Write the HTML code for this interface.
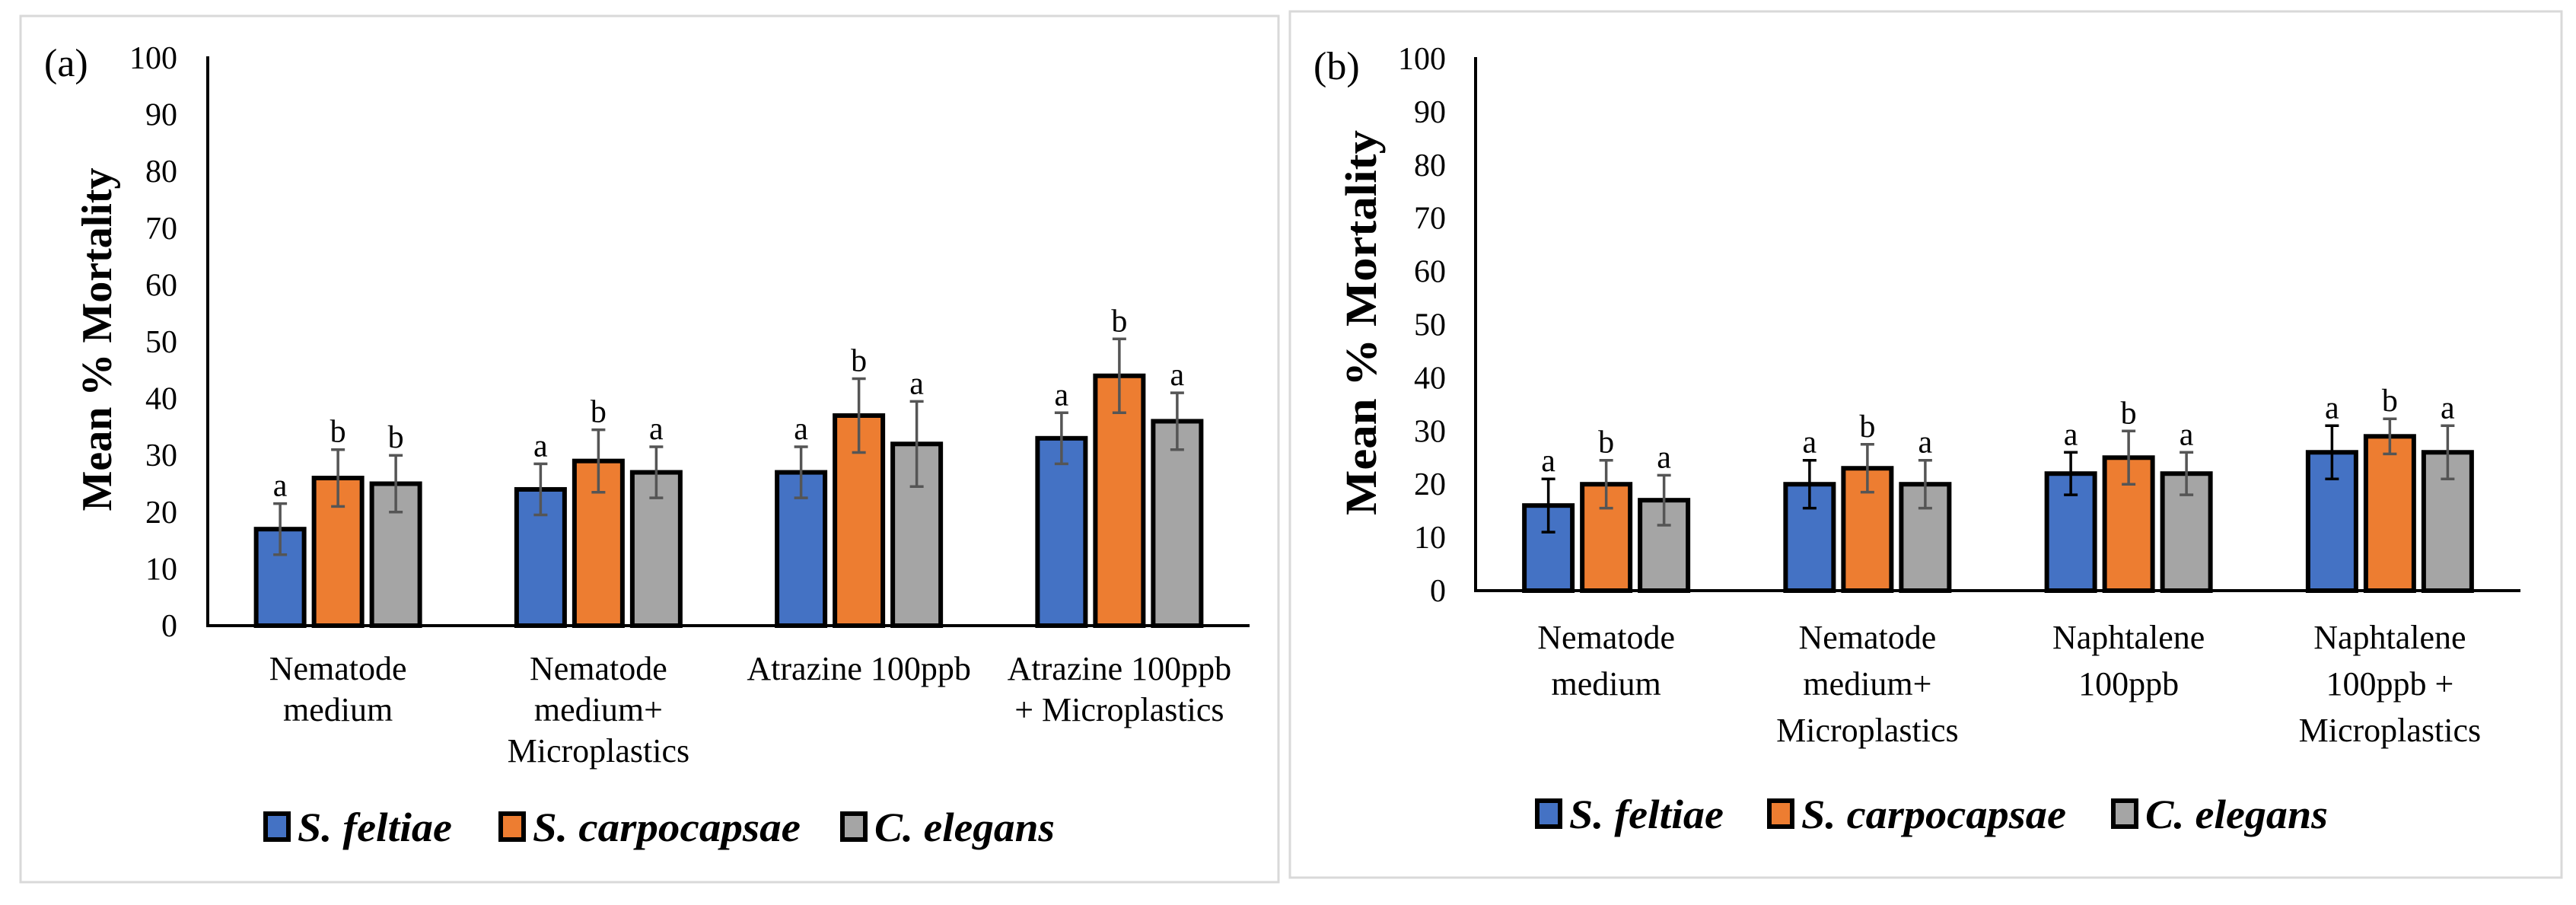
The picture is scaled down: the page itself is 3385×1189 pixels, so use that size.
<!DOCTYPE html>
<html><head><meta charset="utf-8"><style>
html,body{margin:0;padding:0;background:#fff;width:3385px;height:1189px;overflow:hidden}
svg{display:block}
text{font-family:"Liberation Serif",serif;fill:#000}
</style></head><body>
<svg id="chart" width="3385" height="1189"></svg>
<script>
const seriesNames=["S. feltiae","S. carpocapsae","C. elegans"];
const seriesColors=["#4472C4","#ED7D31","#A5A5A5"];
const yTicks=[0,10,20,30,40,50,60,70,80,90,100];
const catsA=[["Nematode","medium"],["Nematode","medium+","Microplastics"],["Atrazine 100ppb"],["Atrazine 100ppb","+ Microplastics"]];
const valsA=[[17,24,27,33],[26,29,37,44],[25,27,32,36]];
const errsA=[[4.5,4.5,4.5,4.5],[5,5.5,6.5,6.5],[5,4.5,7.5,5]];
const lettersA=[["a","a","a","a"],["b","b","b","b"],["b","a","a","a"]];
const catsB=[["Nematode","medium"],["Nematode","medium+","Microplastics"],["Naphtalene","100ppb"],["Naphtalene","100ppb +","Microplastics"]];
const valsB=[[16,20,22,26],[20,23,25,29],[17,20,22,26]];
const errsB=[[5,4.5,4,5],[4.5,4.5,5,3.3],[4.7,4.5,4,5]];
const lettersB=[["a","a","a","a"],["b","b","b","b"],["a","a","a","a"]];

const NS="http://www.w3.org/2000/svg";
const svg=document.getElementById('chart');
function mk(tag,attrs,parent){const e=document.createElementNS(NS,tag);for(const k in attrs)e.setAttribute(k,attrs[k]);(parent||svg).appendChild(e);return e;}

function drawPanel(p){
  const g=mk('g',{});
  
  
  const border=mk('rect',{x:p.bx,y:p.by,width:p.bw,height:p.bh,fill:'none',stroke:'#d9d9d9','stroke-width':3},g);
  
  
  const y=v=>p.y0-(v/100)*(p.y0-p.y100);
  const cw=(p.xEnd-p.x0)/p.cats.length;
  const x=i=>p.x0+cw*(i+0.5);
  const lab=mk('text',{x:p.labX,y:p.labY,'font-size':52},g);lab.textContent=p.label;
  
  
  yTicks.forEach(t=>{const tt=mk('text',{x:p.tickX,y:y(t)+14,'text-anchor':'end','font-size':42},g);tt.textContent=t;
    
    });
  const yt=mk('text',{x:0,y:0,'text-anchor':'middle','font-size':p.titleSize,'font-weight':'bold',textLength:p.titleLen,lengthAdjust:'spacingAndGlyphs',transform:`translate(${p.titleX},${p.titleY}) rotate(-90)`},g);
  yt.textContent="Mean % Mortality";
  
  
  const bw=63,pitch=76;
  p.vals.forEach((sv,s)=>{sv.forEach((v,i)=>{
    const cx=x(i)+(s-1)*pitch;
    const r=mk('rect',{x:cx-bw/2,y:y(v),width:bw,height:p.y0-y(v),fill:seriesColors[s],stroke:'#000','stroke-width':6},g);
    
    
    const e=p.errs[s][i];const ec=(p.blackBlueErr&&s===0)?'#000':'#555';
    const eb=mk('path',{d:`M${cx},${y(v+e)}V${y(v-e)}M${cx-9},${y(v+e)}H${cx+9}M${cx-9},${y(v-e)}H${cx+9}`,stroke:ec,'stroke-width':3.5,fill:'none'},g);
    
    
    const lt=mk('text',{x:cx,y:y(v+e)-10,'text-anchor':'middle','font-size':42},g);lt.textContent=p.letters[s][i];
    
    
  });});
  const ax=mk('path',{d:`M${p.x0},${p.y100-2}V${p.y0}H${p.xEnd}`,stroke:'#000','stroke-width':4,fill:'none'},g);
  
  
  p.cats.forEach((lines,i)=>{const t=mk('text',{x:x(i),y:p.catY,'text-anchor':'middle','font-size':44},g);
    
    
    lines.forEach((l,j)=>{const ts=mk('tspan',{x:x(i),dy:j?p.catLH:0},t);ts.textContent=l;});});
  seriesNames.forEach((n,s)=>{
    const sq=mk('rect',{x:p.legX[s],y:p.legY-36,width:30,height:34,fill:seriesColors[s],stroke:'#000','stroke-width':6},g);
    
    
    const lt=mk('text',{x:p.legX[s]+42,y:p.legY,'font-size':54,'font-style':'italic','font-weight':'bold',textLength:p.legLen[s],lengthAdjust:'spacingAndGlyphs'},g);lt.textContent=n;
    
    
  });
}
drawPanel({name:'panel-a',label:'(a)',bx:27,by:21,bw:1653,bh:1138,x0:273,xEnd:1642,y0:822,y100:76,
  tickX:233,labX:58,labY:100,titleX:146,titleY:446,titleSize:56,titleLen:451,cats:catsA,vals:valsA,errs:errsA,letters:lettersA,
  catY:893,catLH:54,legX:[349,658,1107],legY:1105,legLen:[203,352,237],blackBlueErr:false});
drawPanel({name:'panel-b',label:'(b)',bx:1695,by:15,bw:1671,bh:1138,x0:1939,xEnd:3312,y0:776,y100:77,
  tickX:1900,labX:1726,labY:104,titleX:1808,titleY:424,titleSize:58,titleLen:506,cats:catsB,vals:valsB,errs:errsB,letters:lettersB,
  catY:852,catLH:61,legX:[2020,2325,2777],legY:1088,legLen:[203,348,240],blackBlueErr:true});
</script>
</body></html>
